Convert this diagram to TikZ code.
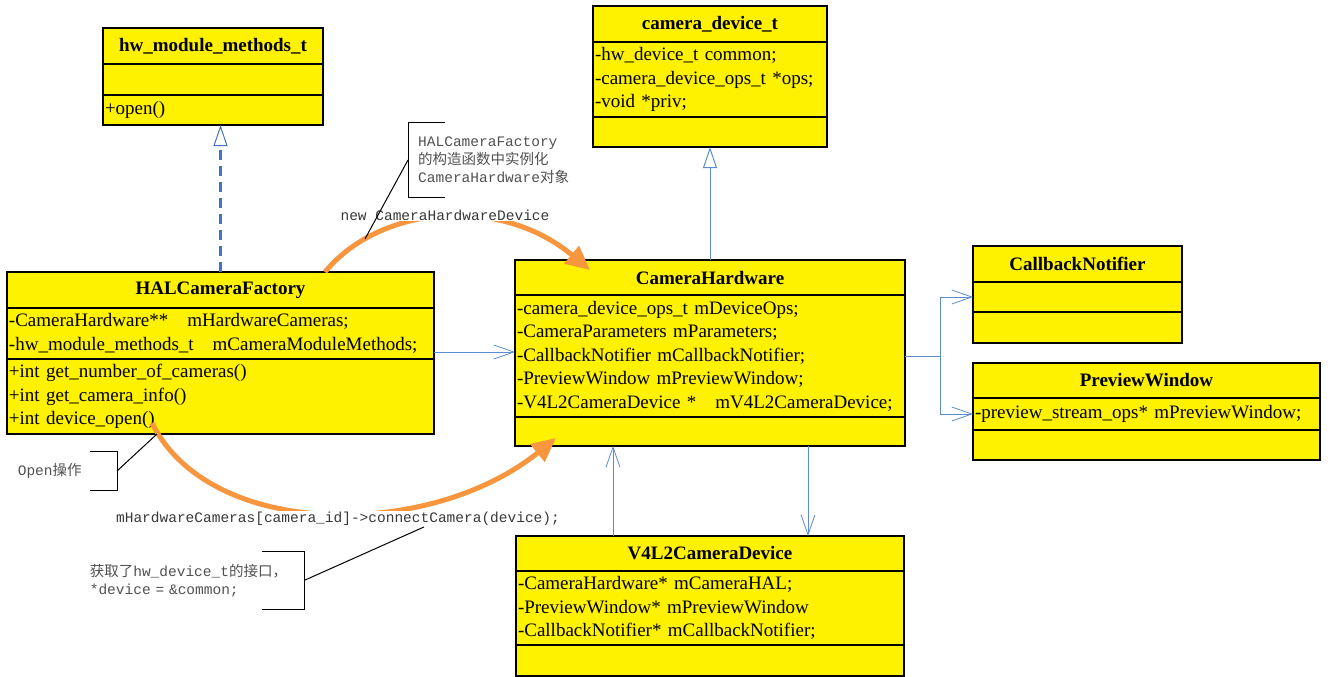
\documentclass[tikz,border=0pt]{standalone}
\usepackage{fontspec}
\setmainfont{Liberation Serif}
\setmonofont{Liberation Mono}
\newfontfamily\cjkfont{Noto Sans CJK SC}
\usepackage{tikz}
\usetikzlibrary{arrows.meta,positioning}

\definecolor{umlblue}{HTML}{5B8BD0}
\definecolor{dashblue}{HTML}{4472C4}
\definecolor{flowcolor}{HTML}{F7963E}
\definecolor{notegray}{HTML}{505050}
\newcommand{\umltitlefont}{\fontsize{19}{23}\selectfont\bfseries}
\newcommand{\umlpartfont}{\fontsize{19}{23.5}\selectfont}
\newcommand{\umlnotefont}{\fontsize{14.5}{18}\selectfont\ttfamily}

\begin{document}
\begin{tikzpicture}[
                    x=1pt, y=-1pt,
                    classtitle/.style={
                        rectangle,
                        draw=black,
                        line width=1.2pt,
                        fill=yellow,
                        outer sep=0pt,
                        inner xsep=2pt,
                        inner ysep=0pt,
                        align=center,
                        font=\umltitlefont
                    },
                    classpart/.style={
                        rectangle,
                        draw=black,
                        line width=1.2pt,
                        fill=yellow,
                        outer sep=0pt,
                        inner xsep=2pt,
                        inner ysep=0pt,
                        align=left,
                        font=\umlpartfont
                    },
                    note/.style={
                        inner xsep=3pt,
                        inner ysep=0pt,
                        align=left,
                        font=\umlnotefont,
                        text=notegray
                    },
                    flowlabel/.style={
                        fill=white,
                        inner sep=1pt,
                        font=\umlnotefont,
                        text=notegray!70!black
                    },
                    realize/.style={
                        draw=dashblue,
                        line width=3pt,
                        dash pattern=on 10pt off 6pt,
                        -{Triangle[open, length=21pt, width=14pt, line width=1pt]}
                    },
                    inherit/.style={
                        draw=umlblue,
                        line width=1pt,
                        -{Triangle[open, length=21pt, width=14pt]}
                    },
                    assoc/.style={
                        draw=umlblue,
                        line width=0.8pt,
                        -{Straight Barb[length=20pt, width=14pt]}
                    },
                    flow/.style={
                        draw=flowcolor,
                        line width=5pt,
                        -{Triangle[length=24pt, width=22pt]}
                    },
                    noteline/.style={
                        draw=black,
                        line width=1pt
                    },
                    node distance=0pt
                ]
                \useasboundingbox (0,0) rectangle (1330,677);

                \node (HW) [classtitle, text width=216pt, minimum height=36pt, anchor=north west] at (103,28) {hw\_module\_methods\_t};
                \node (HWattr) [classpart, text width=216pt, minimum height=31pt, below=of HW] {};
                \node (HWop) [classpart, text width=216pt, minimum height=30pt, below=of HWattr] {+open()};

                \node (CDT) [classtitle, text width=230pt, minimum height=36pt, anchor=north west] at (593,6) {camera\_device\_t};
                \node (CDTattr) [classpart, text width=230pt, minimum height=75pt, below=of CDT] {-hw\_device\_t common;\\-camera\_device\_ops\_t *ops;\\-void *priv;};
                \node (CDTop) [classpart, text width=230pt, minimum height=30pt, below=of CDTattr] {};

                \node (HAL) [classtitle, text width=423pt, minimum height=36pt, anchor=north west] at (7,272) {HALCameraFactory};
                \node (HALattr) [classpart, text width=423pt, minimum height=51pt, below=of HAL] {-CameraHardware**\quad mHardwareCameras;\\-hw\_module\_methods\_t\quad mCameraModuleMethods;};
                \node (HALop) [classpart, text width=423pt, minimum height=75pt, below=of HALattr] {+int get\_number\_of\_cameras()\\+int get\_camera\_info()\\+int device\_open()};

                \node (CH) [classtitle, text width=386pt, minimum height=35pt, anchor=north west] at (515,260) {CameraHardware};
                \node (CHattr) [classpart, text width=386pt, minimum height=122pt, below=of CH] {-camera\_device\_ops\_t mDeviceOps;\\-CameraParameters mParameters;\\-CallbackNotifier mCallbackNotifier;\\-PreviewWindow mPreviewWindow;\\-V4L2CameraDevice *\quad mV4L2CameraDevice;};
                \node (CHop) [classpart, text width=386pt, minimum height=29pt, below=of CHattr] {};

                \node (CN) [classtitle, text width=205pt, minimum height=36pt, anchor=north west] at (973,246) {CallbackNotifier};
                \node (CNattr) [classpart, text width=205pt, minimum height=30pt, below=of CN] {};
                \node (CNop) [classpart, text width=205pt, minimum height=31pt, below=of CNattr] {};

                \node (PW) [classtitle, text width=343pt, minimum height=35pt, anchor=north west] at (973,363) {PreviewWindow};
                \node (PWattr) [classpart, text width=343pt, minimum height=32pt, below=of PW] {-preview\_stream\_ops* mPreviewWindow;};
                \node (PWop) [classpart, text width=343pt, minimum height=30pt, below=of PWattr] {};

                \node (V4L) [classtitle, text width=384pt, minimum height=35pt, anchor=north west] at (516,536) {V4L2CameraDevice};
                \node (V4Lattr) [classpart, text width=384pt, minimum height=74pt, below=of V4L] {-CameraHardware* mCameraHAL;\\-PreviewWindow* mPreviewWindow\\-CallbackNotifier* mCallbackNotifier;};
                \node (V4Lop) [classpart, text width=384pt, minimum height=31pt, below=of V4Lattr] {};

                \draw [realize] (HAL.north) -- (HAL.north |- HWop.south);
                \draw [inherit] (CH.north) -- (CDTop.south);

                \coordinate (HALout) at ([yshift=7pt]HALattr.south east);
                \draw [assoc] (HALout) -- (HALout -| CHattr.west);
                \draw [assoc] (CHattr.east) -- ++(35,0) coordinate (CHfork) |- (CNattr.west);
                \draw [assoc] (CHfork) |- (PWattr.west);

                \coordinate (V4Lup) at ([xshift=-97pt]V4L.north);
                \draw [assoc] (V4Lup) -- (V4Lup |- CHop.south);
                \coordinate (CHdown) at ([xshift=98pt]CHop.south);
                \draw [assoc] (CHdown) -- (CHdown |- V4L.north);

                \draw [flow] ([xshift=-109pt]HAL.north east) .. controls (380,205) and (500,195) .. coordinate[pos=0.2] (NEWpt) ([xshift=75pt, yshift=-10pt]CH.north west);
                \node (NEWlbl) [flowlabel] at (445,215) {new CameraHardwareDevice};

                \draw [flow] ([xshift=145pt, yshift=11pt]HALop.south west) .. controls (210,540) and (430,540) .. ([xshift=41pt, yshift=8pt]CHop.south west);
                \node (CONlbl) [flowlabel] at (338,519) {mHardwareCameras[camera\_id]->connectCamera(device);};

                \node (NOTEctor) [note, inner xsep=10pt, text width=170pt, minimum height=74pt, anchor=west] at (408,160) {HALCameraFactory\\{\cjkfont 的构造函数中实例化}\\CameraHardware{\cjkfont 对象}};
                \draw [noteline] ([xshift=37pt]NOTEctor.north west) -- (NOTEctor.north west) -- (NOTEctor.south west) -- ([xshift=37pt]NOTEctor.south west);
                \draw [noteline] (NOTEctor.west) -- (NEWpt);

                \node (NOTEopen) [note, text width=96pt, minimum height=38pt, anchor=east] at (117,471) {Open{\cjkfont 操作}};
                \draw [noteline] ([xshift=-27pt]NOTEopen.north east) -- (NOTEopen.north east) -- (NOTEopen.south east) -- ([xshift=-27pt]NOTEopen.south east);
                \draw [noteline] (NOTEopen.east) -- ([xshift=150pt]HALop.south west);

                \node (NOTEdev) [note, text width=211pt, minimum height=57pt, anchor=east] at (304,580.5) {{\cjkfont 获取了}hw\_device\_t{\cjkfont 的接口，}\\\relax *device = \&common;};
                \draw [noteline] ([xshift=-42pt]NOTEdev.north east) -- (NOTEdev.north east) -- (NOTEdev.south east) -- ([xshift=-42pt]NOTEdev.south east);
                \draw [noteline] (NOTEdev.east) -- ([xshift=86pt]CONlbl.south);
            \end{tikzpicture}
\end{document}
